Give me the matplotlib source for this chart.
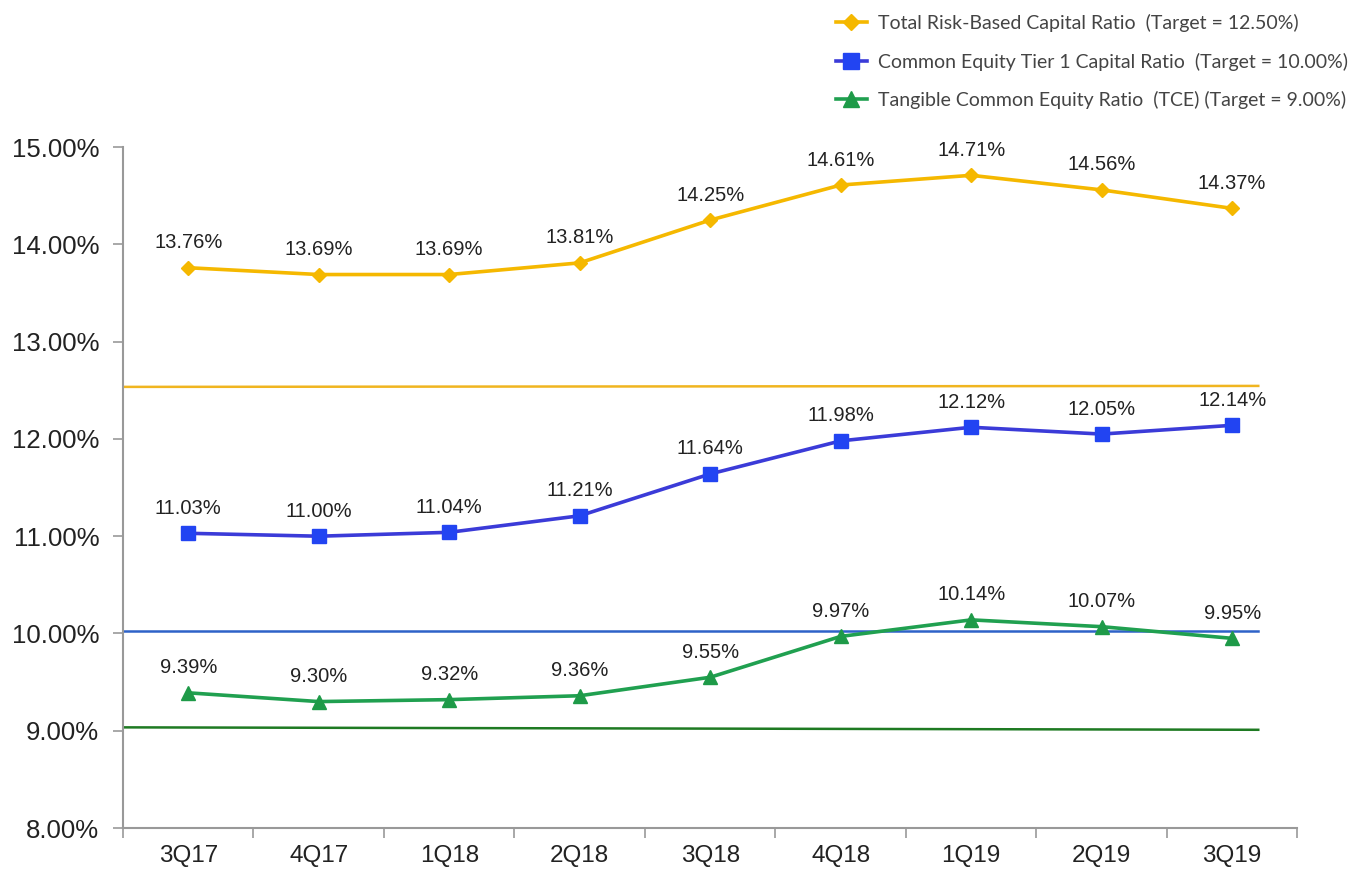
import matplotlib
matplotlib.use("Agg")
import matplotlib.pyplot as plt
from matplotlib.ticker import FuncFormatter

quarters = ["3Q17", "4Q17", "1Q18", "2Q18", "3Q18", "4Q18", "1Q19", "2Q19", "3Q19"]
total_rbc = [13.76, 13.69, 13.69, 13.81, 14.25, 14.61, 14.71, 14.56, 14.37]
cet1 = [11.03, 11.00, 11.04, 11.21, 11.64, 11.98, 12.12, 12.05, 12.14]
tce = [9.39, 9.30, 9.32, 9.36, 9.55, 9.97, 10.14, 10.07, 9.95]

# target lines as drawn (left level, right level)
target_rbc = [12.535, 12.545]
target_cet1 = [10.03, 10.03]
target_tce = [9.035, 9.01]

names = ["Total Risk-Based Capital Ratio  (Target = 12.50%)",
         "Common Equity Tier 1 Capital Ratio  (Target = 10.00%)",
         "Tangible Common Equity Ratio  (TCE) (Target = 9.00%)"]

plt.rcParams['font.family'] = ['Liberation Sans', 'DejaVu Sans']

fig = plt.figure(figsize=(13.68, 8.73), dpi=100)
ax = fig.add_axes([0.0899, 0.0515, 0.8585, 0.780])

x = list(range(len(quarters)))
x_end = 8.2

ax.plot([-0.5, x_end], target_rbc, color="#F0B520", lw=1.8, zorder=2)
ax.plot([-0.5, x_end], target_cet1, color="#2E62C8", lw=1.8, zorder=2)
ax.plot([-0.5, x_end], target_tce, color="#1E7A22", lw=1.8, zorder=2)

series = [
    (total_rbc, "#F5B800", "#F5B800", "D", 7),
    (cet1, "#3B3BD8", "#2244F2", "s", 10),
    (tce, "#20A050", "#1E9A48", "^", 10),
]
handles = []
for vals, lc, mc, mk, ms in series:
    h, = ax.plot(x, vals, color=lc, lw=2.6, marker=mk, markersize=ms,
                 markerfacecolor=mc, markeredgecolor=mc, zorder=3)
    handles.append(h)
    for xi, v in zip(x, vals):
        ax.annotate(f"{v:.2f}%", (xi, v), xytext=(0, 18), textcoords="offset points",
                    ha="center", va="center", fontsize=14.5, color="#222222")

ax.set_xlim(-0.5, 8.5)
ax.set_ylim(8.0, 15.0)
ax.set_yticks([8, 9, 10, 11, 12, 13, 14, 15])
ax.yaxis.set_major_formatter(FuncFormatter(lambda v, p: f"{v:.2f}%"))
ax.set_xticks(x)
ax.set_xticklabels(quarters)
ax.set_xticks([i + 0.5 for i in range(-1, len(quarters))], minor=True)
ax.tick_params(axis="x", which="major", length=0, pad=12, labelsize=17.5, colors="#222222")
ax.tick_params(axis="x", which="minor", length=7, width=1.2, color="#999999", direction="out")
ax.tick_params(axis="y", length=7, width=1.2, color="#999999", labelsize=18.5,
               labelcolor="#222222", pad=10)

for s in ["top", "right"]:
    ax.spines[s].set_visible(False)
for s in ["left", "bottom"]:
    ax.spines[s].set_color("#999999")
    ax.spines[s].set_linewidth(1.5)

fig.legend(handles, names, loc="upper left", bbox_to_anchor=(0.598, 1.004),
           frameon=False, prop={"family": "Lato", "size": 14.0}, labelcolor="#444444",
           handlelength=1.6, labelspacing=1.05, handletextpad=0.6, markerscale=1.2)

fig.savefig("out.png", dpi=100)
